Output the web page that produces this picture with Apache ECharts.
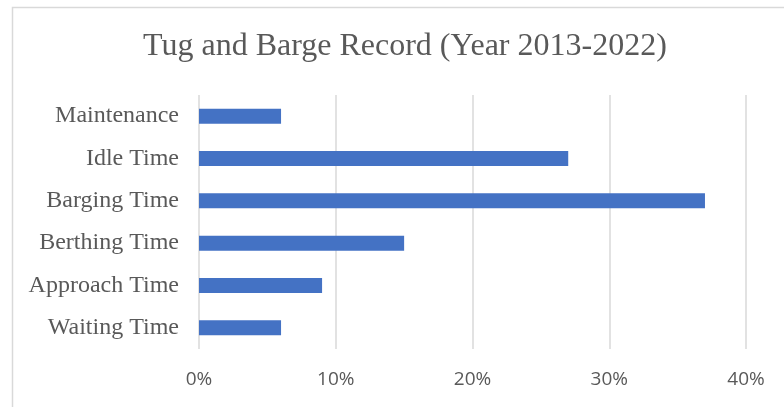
<!DOCTYPE html>
<html>
<head>
<meta charset="utf-8">
<script src="https://cdn.jsdelivr.net/npm/echarts@6/dist/echarts.min.js"></script>
<style>html,body{margin:0;padding:0;background:#fff;}#c{width:784px;height:407px;}</style>
</head>
<body>
<div id="c"></div>
<script>
const categories = ["Waiting Time", "Approach Time", "Berthing Time", "Barging Time", "Idle Time", "Maintenance"];
const values = [6, 9, 15, 37, 27, 6];
const xTicks = [0, 10, 20, 30, 40];
const titleText = "Tug and Barge Record (Year 2013-2022)";

const chart = echarts.init(document.getElementById('c'), null, {renderer: 'canvas'});
chart.setOption({
  animation: false,
  backgroundColor: '#fff',
  graphic: [{
    type: 'rect', left: 10, top: 5, shape: {width: 800, height: 430},
    style: {fill: 'none', stroke: '#d9d9d9', lineWidth: 1.5}, silent: true
  }],
  title: {
    text: titleText, left: 138, top: 26,
    textStyle: {fontFamily: 'Liberation Serif', fontSize: 32, fontWeight: 'normal', color: '#595959'}
  },
  grid: {left: 199, right: 38, top: 95, bottom: 58},
  xAxis: {
    type: 'value', min: xTicks[0], max: xTicks[xTicks.length - 1], interval: 10,
    axisLine: {show: false}, axisTick: {show: false},
    splitLine: {lineStyle: {color: '#d9d9d9', width: 1.5}},
    axisLabel: {formatter: v => v + '%', fontFamily: 'Open Sans', fontSize: 19, color: '#595959', margin: 21}
  },
  yAxis: {
    type: 'category', data: categories,
    axisLine: {show: false}, axisTick: {show: false},
    axisLabel: {fontFamily: 'Liberation Serif', fontSize: 24, color: '#595959', margin: 20}
  },
  series: [{
    type: 'bar', data: values, barWidth: 15,
    itemStyle: {color: '#4472c4'}
  }]
});
</script>
</body>
</html>
